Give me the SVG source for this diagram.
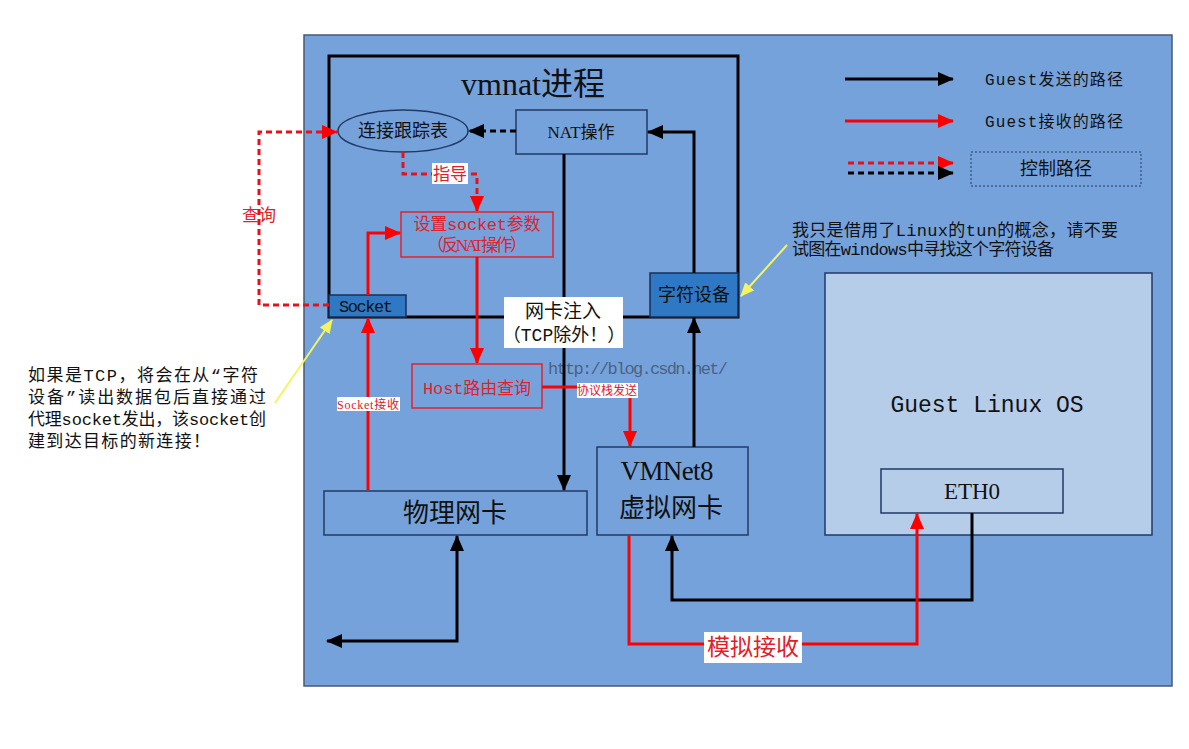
<svg xmlns="http://www.w3.org/2000/svg" width="1189" height="749" viewBox="0 0 1189 749">
<style>
text{font-family:"Liberation Serif","Noto Sans CJK SC",serif;fill:#111;}
.mono{font-family:"Liberation Mono","Noto Sans CJK SC",monospace;}
.box{fill:#76a2dc;stroke:#203a66;stroke-width:1.5;}
.dark{fill:#2f78c4;stroke:#1a2f55;stroke-width:1.5;}
.rbox{fill:#76a2dc;stroke:#e8202a;stroke-width:1.5;}
.lbl{fill:#ffffff;stroke:none;}
.rt{fill:#e0202a;}
.blk{fill:none;stroke:#000;stroke-width:3;}
.red{fill:none;stroke:#ff0000;stroke-width:3;}
.dred{fill:none;stroke:#e8101a;stroke-width:3;stroke-dasharray:6 4;}
.dblk{fill:none;stroke:#000;stroke-width:3;stroke-dasharray:6 4;}
.yel{fill:none;stroke:#f4f460;stroke-width:2;}
</style>
<defs>
<marker id="ab" markerUnits="userSpaceOnUse" markerWidth="16" markerHeight="14" refX="15" refY="7" orient="auto-start-reverse"><path d="M0,0 L16,7 L0,14 z" fill="#000"/></marker>
<marker id="ar" markerUnits="userSpaceOnUse" markerWidth="16" markerHeight="14" refX="15" refY="7" orient="auto-start-reverse"><path d="M0,0 L16,7 L0,14 z" fill="#ff0000"/></marker>
<marker id="ay" markerUnits="userSpaceOnUse" markerWidth="14" markerHeight="12" refX="13" refY="6" orient="auto"><path d="M0,0 L14,6 L0,12 z" fill="#f4f460"/></marker>
</defs>
<rect width="1189" height="749" fill="#ffffff"/>

<g id="background">
<rect x="304" y="35" width="868" height="651" fill="#76a2dc" stroke="#4a5a70" stroke-width="1.5"/>
</g>

<g id="vmnat">
<rect x="329" y="56" width="409" height="261" fill="none" stroke="#000" stroke-width="3"/>
<text x="533" y="95" font-size="32" text-anchor="middle">vmnat进程</text>
</g>

<g id="guest-os">
<rect x="825" y="273" width="327" height="262" fill="#b6cdea" stroke="#203a66" stroke-width="1.5"/>
<text class="mono" x="987" y="412" font-size="23" text-anchor="middle">Guest Linux OS</text>
</g>

<g id="eth0">
<rect x="881" y="469" width="182" height="44" fill="#b6cdea" stroke="#203a66" stroke-width="1.5"/>
<text x="972" y="499" font-size="23" text-anchor="middle" textLength="56">ETH0</text>
</g>

<g id="conn-table">
<ellipse cx="403" cy="131" rx="65" ry="21" fill="#76a2dc" stroke="#203a66" stroke-width="1.5"/>
<text x="403" y="137" font-size="18" text-anchor="middle">连接跟踪表</text>
</g>

<g id="nat-op">
<rect x="516" y="110" width="131" height="44" class="box"/>
<text x="581" y="138" font-size="17" text-anchor="middle">NAT操作</text>
</g>

<g id="set-socket">
<rect x="401" y="212" width="152" height="45" class="rbox"/>
<text class="mono rt" x="477" y="230" font-size="17" text-anchor="middle" textLength="127">设置socket参数</text>
<text class="rt" x="477" y="251" font-size="17" text-anchor="middle" textLength="100">（反NAT操作）</text>
</g>

<g id="socket">
<rect x="329" y="295" width="77" height="22" class="dark"/>
<text class="mono" x="366" y="312" font-size="17" text-anchor="middle" textLength="54">Socket</text>
</g>

<g id="char-dev">
<rect x="650" y="273" width="88" height="44" class="dark"/>
<text x="694" y="301" font-size="18" text-anchor="middle">字符设备</text>
</g>

<g id="host-route">
<rect x="412" y="364" width="130" height="44" class="rbox"/>
<text class="mono rt" x="477" y="394" font-size="17" text-anchor="middle" textLength="108">Host路由查询</text>
</g>

<g id="phys-nic">
<rect x="324" y="491" width="263" height="44" class="box"/>
<text x="455" y="522" font-size="26" text-anchor="middle">物理网卡</text>
</g>

<g id="vmnet8">
<rect x="597" y="447" width="151" height="88" class="box"/>
<text x="667" y="480" font-size="27" text-anchor="middle" textLength="93">VMNet8</text>
<text x="671" y="517" font-size="26" text-anchor="middle">虚拟网卡</text>
</g>

<g id="watermark">
<text class="mono" x="548" y="374" font-size="17" fill="#dfe8f4" opacity="0.45" textLength="180">http://blog.csdn.net/</text>
</g>

<g id="connectors">
<path class="dblk" d="M516,131 L469,131" marker-end="url(#ab)"/>
<path class="blk" d="M694,273 L694,132 L648,132" marker-end="url(#ab)"/>
<path class="blk" d="M564,154 L564,490" marker-end="url(#ab)"/>
<path class="blk" d="M694,447 L694,318" marker-end="url(#ab)"/>
<path class="blk" d="M972,513 L972,600 L672,600 L672,536" marker-end="url(#ab)"/>
<path class="blk" d="M327,641 L457,641 L457,536" marker-start="url(#ab)" marker-end="url(#ab)"/>
<path class="red" d="M629,535 L629,644 L917,644 L917,514" marker-end="url(#ar)"/>
<path class="red" d="M368,490 L368,318" marker-end="url(#ar)"/>
<path class="red" d="M368,295 L368,233 L400,233" marker-end="url(#ar)"/>
<path class="red" d="M477,257 L477,363" marker-end="url(#ar)"/>
<path class="red" d="M542,387 L630,387 L630,446" marker-end="url(#ar)"/>
<path class="dred" d="M403,152 L403,174 L477,174 L477,211" marker-end="url(#ar)"/>
<path class="dred" d="M329,305 L259,305 L259,132 L337,132" marker-end="url(#ar)"/>
<path class="yel" d="M275,403 L332,320" marker-end="url(#ay)"/>
<path class="yel" d="M787,245 L741,296" marker-end="url(#ay)"/>
</g>

<g id="labels">
<rect class="lbl" x="432" y="163" width="36" height="21"/>
<text class="rt" x="450" y="180" font-size="17" text-anchor="middle">指导</text>
<text class="rt" x="259" y="221" font-size="17" text-anchor="middle">查询</text>
<rect class="lbl" x="504" y="297" width="119" height="51"/>
<text x="563" y="318" font-size="19" text-anchor="middle">网卡注入</text>
<text class="mono" x="564" y="341" font-size="18" text-anchor="middle">（TCP除外！）</text>
<rect class="lbl" x="337" y="397" width="63" height="14"/>
<text class="rt" x="368" y="409" font-size="12" text-anchor="middle" textLength="62">Socket接收</text>
<rect class="lbl" x="577" y="383" width="61" height="15"/>
<text class="rt" x="607" y="395" font-size="12" text-anchor="middle">协议栈发送</text>
<rect class="lbl" x="704" y="632" width="98" height="31"/>
<text class="rt" x="753" y="655" font-size="23" text-anchor="middle">模拟接收</text>
</g>

<g id="legend">
<path class="blk" d="M845,79 L953,79" marker-end="url(#ab)"/>
<text class="mono" x="985" y="85" font-size="16" textLength="138">Guest发送的路径</text>
<path class="red" d="M845,121 L953,121" marker-end="url(#ar)"/>
<text class="mono" x="985" y="127" font-size="16" textLength="138">Guest接收的路径</text>
<path class="dred" d="M848,163 L953,163" marker-end="url(#ar)"/>
<path class="dblk" d="M848,173 L953,173" marker-end="url(#ab)"/>
<rect x="971" y="152" width="170" height="34" fill="none" stroke="#203a66" stroke-width="1" stroke-dasharray="2 2"/>
<text x="1056" y="175" font-size="18" text-anchor="middle">控制路径</text>
</g>

<g id="note-right">
<text class="mono" x="792" y="236" font-size="17" textLength="326">我只是借用了Linux的tun的概念，请不要</text>
<text class="mono" x="792" y="255" font-size="17" textLength="262">试图在windows中寻找这个字符设备</text>
</g>

<g id="note-left">
<text class="mono" x="28" y="381" font-size="17" textLength="230">如果是TCP，将会在从“字符</text>
<text class="mono" x="28" y="403" font-size="17" textLength="238">设备”读出数据包后直接通过</text>
<text class="mono" x="28" y="425" font-size="17" textLength="238">代理socket发出，该socket创</text>
<text class="mono" x="28" y="447" font-size="17" textLength="182">建到达目标的新连接！</text>
</g>
</svg>
